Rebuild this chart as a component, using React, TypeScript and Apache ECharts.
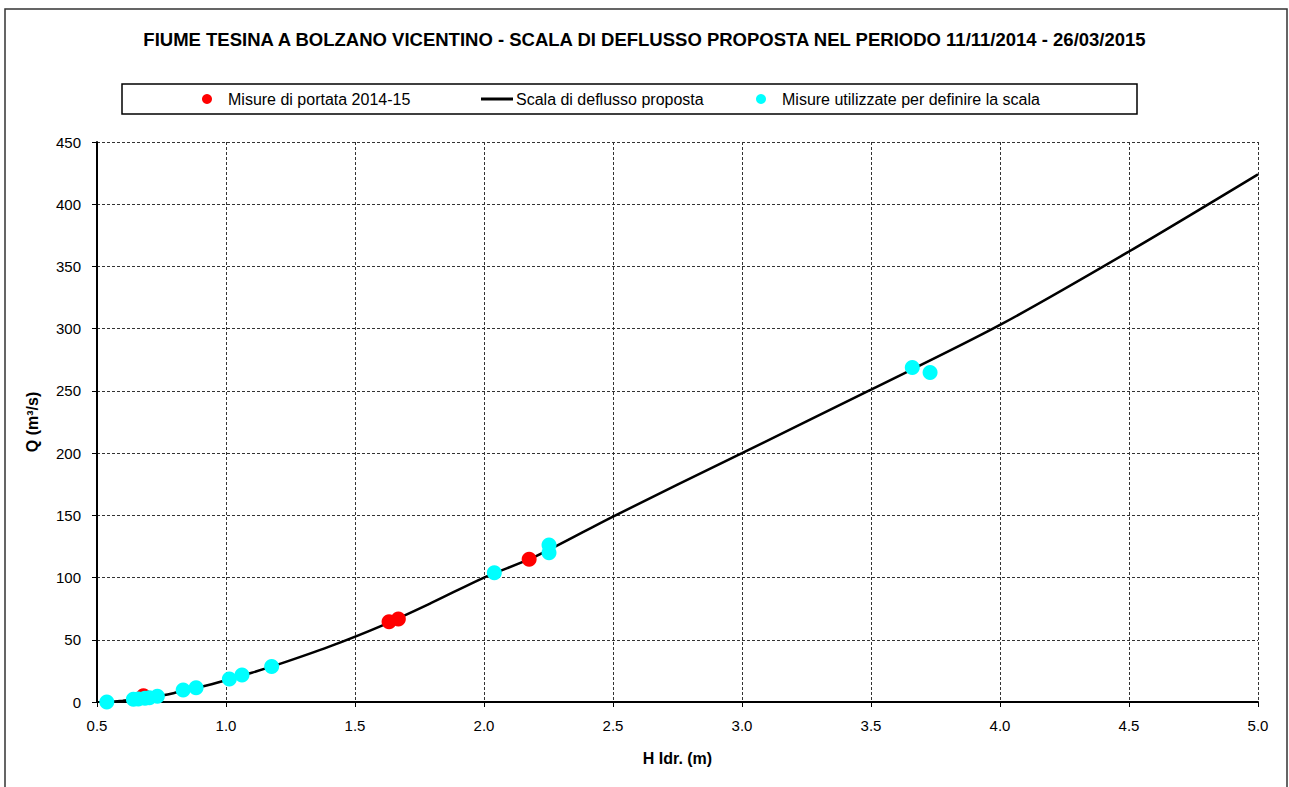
import React, { useEffect, useRef } from "react";
import * as echarts from "echarts";

const titleText =
  "FIUME TESINA A BOLZANO VICENTINO - SCALA DI DEFLUSSO PROPOSTA NEL PERIODO 11/11/2014 - 26/03/2015";
const seriesNames = [
  "Misure di portata 2014-15",
  "Scala di deflusso proposta",
  "Misure utilizzate per definire la scala",
];

// Rating curve (H, Q)
const curveH = [0.55, 0.6, 0.65, 0.7, 0.75, 0.8, 0.9, 1.0, 1.1, 1.2, 1.4, 1.6, 1.8, 2.0, 2.2, 2.5, 3.0, 3.5, 4.0, 4.5, 5.0];
const curveQ = [0, 1, 2.2, 3.5, 5.2, 7.3, 12, 17.5, 23.5, 30, 44.5, 61, 80, 100, 117, 149, 200, 251, 303, 362, 424];

// Measurements 2014-15 (red)
const redH = [0.68, 1.632, 1.668, 2.175];
const redQ = [5.0, 64.5, 66.7, 114.7];

// Measurements used to define the scale (cyan)
const cyanH = [0.538, 0.641, 0.66, 0.686, 0.703, 0.734, 0.834, 0.884, 1.013, 1.062, 1.177, 2.04, 2.252, 2.252, 3.66, 3.729];
const cyanQ = [0, 2.2, 2.5, 3.0, 3.5, 4.6, 9.6, 11.4, 18.4, 21.7, 28.6, 103.9, 126.2, 120, 268.7, 264.7];

const FONT = "'Liberation Sans', Arial, sans-serif";

export default function App() {
  const ref = useRef<HTMLDivElement>(null);
  useEffect(() => {
    if (!ref.current) return;
    const chart = echarts.init(ref.current, null, { renderer: "svg" });
    const zip = (a: number[], b: number[]) => a.map((v, i) => [v, b[i]]);
    const gridLine = { show: true, lineStyle: { color: "#333", type: [3, 2] as any, width: 1 } };
    const legendText = { fontFamily: FONT, fontSize: 16, color: "#000" };
    chart.setOption({
      animation: false,
      backgroundColor: "#fff",
      textStyle: { fontFamily: FONT },
      title: {
        text: titleText,
        left: "center",
        top: 30,
        padding: 0,
        textStyle: { fontFamily: FONT, fontSize: 18.5, fontWeight: "bold", color: "#000" },
      },
      graphic: [
        {
          type: "rect",
          shape: { x: 5, y: 9, width: 1282, height: 800 },
          style: { fill: "none", stroke: "#333", lineWidth: 1.5 },
          silent: true,
        },
        {
          type: "rect",
          shape: { x: 122, y: 84, width: 1015, height: 30 },
          style: { fill: "none", stroke: "#000", lineWidth: 1.5 },
          silent: true,
        },
      ],
      legend: [
        {
          data: [{ name: seriesNames[0], icon: "circle" }],
          left: 202,
          top: 91,
          padding: 0,
          itemWidth: 10,
          itemHeight: 10,
          textStyle: { ...legendText, padding: [0, 0, 0, 11] },
          selectedMode: false,
        },
        {
          data: [{ name: seriesNames[1], icon: "rect" }],
          left: 481,
          top: 91,
          padding: 0,
          itemWidth: 32,
          itemHeight: 3,
          textStyle: { ...legendText, padding: [0, 0, 0, -2] },
          selectedMode: false,
        },
        {
          data: [{ name: seriesNames[2], icon: "circle" }],
          left: 756,
          top: 91,
          padding: 0,
          itemWidth: 10,
          itemHeight: 10,
          textStyle: { ...legendText, padding: [0, 0, 0, 11] },
          selectedMode: false,
        },
      ],
      grid: { left: 97, right: 31, top: 142, bottom: 85, containLabel: false },
      xAxis: {
        type: "value",
        min: 0.5,
        max: 5.0,
        interval: 0.5,
        name: "H Idr. (m)",
        nameLocation: "middle",
        nameGap: 48,
        nameTextStyle: { fontFamily: FONT, fontSize: 16, fontWeight: "bold", color: "#000" },
        axisLine: { show: true, onZero: false, lineStyle: { color: "#000", width: 2 } },
        axisTick: { show: true, inside: false, length: 5, lineStyle: { color: "#000" } },
        axisLabel: {
          fontFamily: FONT,
          fontSize: 15,
          color: "#000",
          margin: 16,
          formatter: (v: number) => v.toFixed(1),
        },
        splitLine: gridLine,
      },
      yAxis: {
        type: "value",
        min: 0,
        max: 450,
        interval: 50,
        name: "Q (m³/s)",
        nameLocation: "middle",
        nameRotate: 90,
        nameGap: 57,
        nameTextStyle: { fontFamily: FONT, fontSize: 16, fontWeight: "bold", color: "#000" },
        axisLine: { show: true, lineStyle: { color: "#000", width: 2 } },
        axisTick: { show: true, inside: false, length: 5, lineStyle: { color: "#000" } },
        axisLabel: { fontFamily: FONT, fontSize: 15, color: "#000", margin: 16 },
        splitLine: gridLine,
      },
      series: [
        {
          name: seriesNames[1],
          type: "line",
          data: zip(curveH, curveQ),
          smooth: 0.3,
          showSymbol: false,
          symbol: "none",
          lineStyle: { color: "#000", width: 2.5 },
          itemStyle: { color: "#000" },
          z: 2,
        },
        {
          name: seriesNames[0],
          type: "scatter",
          data: zip(redH, redQ),
          symbol: "circle",
          symbolSize: 15,
          itemStyle: { color: "#ff0000", opacity: 1 },
          z: 3,
        },
        {
          name: seriesNames[2],
          type: "scatter",
          data: zip(cyanH, cyanQ),
          symbol: "circle",
          symbolSize: 15,
          itemStyle: { color: "#00ffff", opacity: 1 },
          z: 4,
        },
      ],
    });
    return () => chart.dispose();
  }, []);
  return (
    <div
      ref={ref}
      style={{ position: "fixed", left: 0, top: 0, width: 1289, height: 787, background: "#fff" }}
    />
  );
}
